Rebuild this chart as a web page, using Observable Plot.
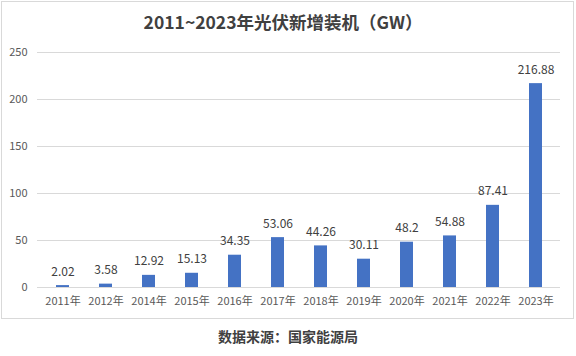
<!DOCTYPE html>
<html><head><meta charset="utf-8">
<script src="https://cdn.jsdelivr.net/npm/d3@7"></script>
<script src="https://cdn.jsdelivr.net/npm/@observablehq/plot@0.6"></script>
<style>
body{margin:0;background:#fff;font-family:"Noto Sans CJK SC","Noto Sans",sans-serif;}
#wrap{position:relative;width:576px;height:356px;overflow:hidden;}
#box{position:absolute;left:1px;top:1px;width:571px;height:316px;border:1px solid #d9d9d9;}
#title{position:absolute;left:0;top:10px;width:566px;text-align:center;font-size:17.5px;font-weight:bold;color:#404040;line-height:24px;}
#chart{position:absolute;left:0;top:36px;}
#cap{position:absolute;left:0;top:325px;width:576px;text-align:center;font-size:14px;font-weight:bold;color:#404040;line-height:22px;}
</style></head>
<body>
<div id="wrap">
<div id="box"></div>
<div id="title">2011~2023年光伏新增装机（GW）</div>
<div id="chart"></div>
<div id="cap">数据来源：国家能源局</div>
</div>
<script>
const years = ["2011年","2012年","2014年","2015年","2016年","2017年","2018年","2019年","2020年","2021年","2022年","2023年"];
const values = [2.02,3.58,12.92,15.13,34.35,53.06,44.26,30.11,48.2,54.88,87.41,216.88];
const yTicks = [0,50,100,150,200,250];
const data = years.map((y,i)=>({year:y, value:values[i]}));
const chart = Plot.plot({
  width:576, height:276,
  marginTop:16, marginBottom:25, marginLeft:37, marginRight:16,
  style:{fontFamily:'"Noto Sans CJK SC","Noto Sans",sans-serif', fontSize:"11px", color:"#595959", background:"transparent"},
  x:{domain:years, paddingInner:0.7, paddingOuter:0.33, label:null},
  y:{domain:[0,250], label:null},
  marks:[
    Plot.gridY(yTicks,{stroke:"#d9d9d9", strokeOpacity:1}),
    Plot.axisY(yTicks,{tickSize:0, tickPadding:10, label:null, fill:"#595959"}),
    Plot.axisX({tickSize:0, tickPadding:10, label:null, fill:"#595959"}),
    Plot.barY(data,{x:"year", y:"value", fill:"#4472c4"}),
    Plot.ruleY([0],{stroke:"#d9d9d9"}),
    Plot.text(data,{x:"year", y:"value", text:d=>String(d.value), dy:-10, lineAnchor:"bottom", fill:"#404040", fontSize:12})
  ]
});
document.getElementById("chart").appendChild(chart);
</script>
</body></html>
